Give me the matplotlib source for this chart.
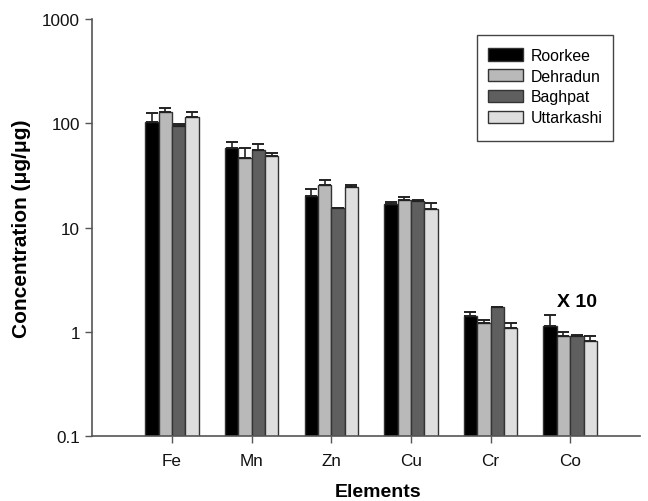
import matplotlib
matplotlib.use("Agg")
import matplotlib.pyplot as plt
from matplotlib.patches import Rectangle
import numpy as np

elements = ["Fe", "Mn", "Zn", "Cu", "Cr", "Co"]
sites = ["Roorkee", "Dehradun", "Baghpat", "Uttarkashi"]

roorkee = [104, 57.7, 20.1, 16.9, 1.43, 1.15]
dehradun = [129, 46.9, 25.7, 18.5, 1.22, 0.92]
baghpat = [93.8, 55.6, 15.3, 17.9, 1.73, 0.91]
uttarkashi = [115, 49.0, 24.4, 15.1, 1.09, 0.81]

roorkee_err = [21, 9.1, 3.4, 0.7, 0.14, 0.31]
dehradun_err = [11, 10.8, 3.0, 1.3, 0.08, 0.07]
baghpat_err = [4.9, 7.8, 0.3, 0.6, 0.02, 0.03]
uttarkashi_err = [13, 2.7, 1.3, 2.0, 0.12, 0.11]

values = [roorkee, dehradun, baghpat, uttarkashi]
errors = [roorkee_err, dehradun_err, baghpat_err, uttarkashi_err]
colors = ["#000000", "#b9b9b9", "#5f5f5f", "#dedede"]

plt.rcParams['font.family'] = ['Liberation Sans', 'DejaVu Sans']

fig = plt.figure(figsize=(6.48, 5.02), dpi=100)
ax = fig.add_axes([0.1415, 0.129, 0.8465, 0.831])

x = np.arange(len(elements))
w = 0.168
for i, (vals, errs, c, name) in enumerate(zip(values, errors, colors, sites)):
    pos = x + (i - 1.5) * w
    ax.bar(pos, vals, width=w, color=c, edgecolor="#333333", linewidth=1.0,
           label=name, zorder=2)
    ax.errorbar(pos, vals, yerr=[np.zeros(len(vals)), errs], fmt="none",
                ecolor="#222222", elinewidth=1.2, capsize=4.3, capthick=1.4, zorder=3)

ax.set_yscale("log")
ax.set_ylim(0.1, 1000)
ax.set_xlim(-1.01, 5.88)
ax.set_yticks([0.1, 1, 10, 100, 1000])
ax.set_yticklabels(["0.1", "1", "10", "100", "1000"])
ax.yaxis.set_minor_locator(matplotlib.ticker.NullLocator())
ax.set_xticks(x)
ax.set_xticklabels(elements)

for s in ["top", "right"]:
    ax.spines[s].set_visible(False)
for s in ["left", "bottom"]:
    ax.spines[s].set_color("#555555")
    ax.spines[s].set_linewidth(1.2)
ax.tick_params(axis="both", direction="out", length=5, width=1.0, color="#555555",
               labelsize=12.3, labelcolor="#111111")
ax.tick_params(axis="x", pad=7)

ax.set_ylabel("Concentration (μg/μg)", fontsize=15, fontweight="bold")
ax.set_xlabel("Elements", fontsize=14, fontweight="bold")
ax.xaxis.set_label_coords((378 - 91.7) / 548.3, -(493 - 437.3) / 417.2)
ax.xaxis.label.set_va("center")
ax.yaxis.set_label_coords(-(91.7 - 22) / 548.3, 0.5)
ax.yaxis.label.set_va("center")

ax.text(5.09, 1.95, "X 10", fontsize=14, fontweight="bold", ha="center", va="center")

# legend with a hand-placed frame
leg = ax.legend(loc="upper left", bbox_to_anchor=(487.7 / 648, 1 - 49.0 / 502),
                bbox_transform=fig.transFigure, fontsize=11.4,
                frameon=False, handlelength=2.2, handleheight=0.8,
                labelspacing=0.36, borderpad=0, borderaxespad=0,
                handletextpad=0.55)
for h in leg.legend_handles:
    h.set_edgecolor("#333333")
    h.set_linewidth(1.0)
fig.patches.append(Rectangle((477 / 648, 1 - 142 / 502), 136 / 648, 106 / 502,
                             transform=fig.transFigure, fill=False,
                             edgecolor="#444444", linewidth=1.0))

fig.savefig("out.png", dpi=100)
